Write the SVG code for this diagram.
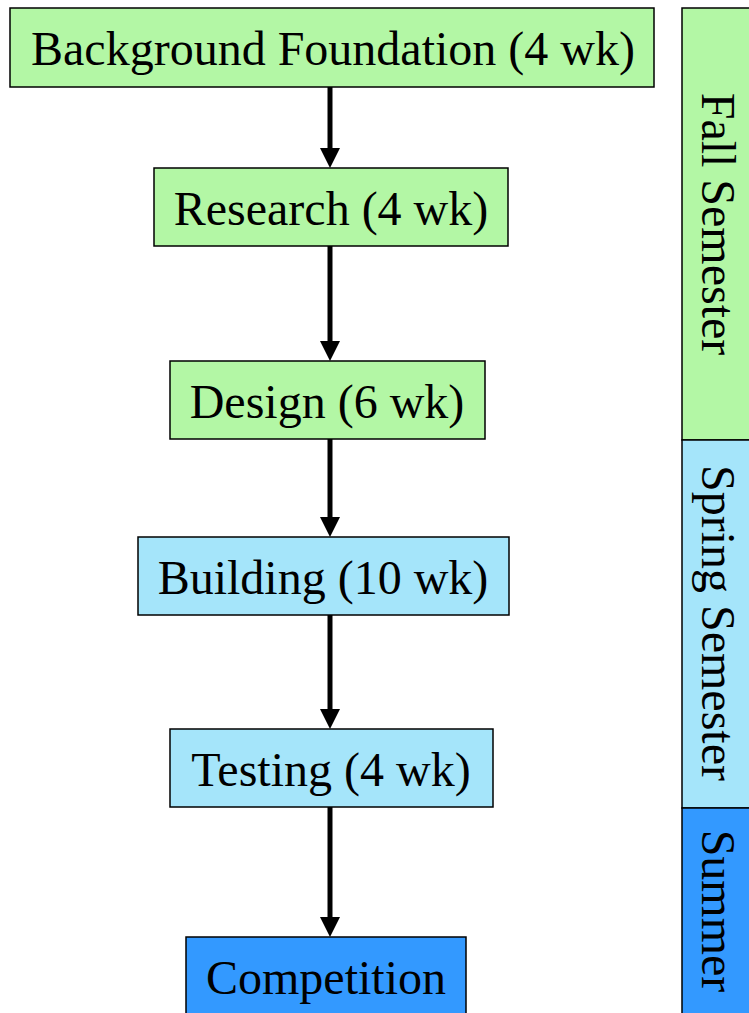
<svg xmlns="http://www.w3.org/2000/svg" width="749" height="1013" viewBox="0 0 749 1013">
<style>
.box{stroke:#000;stroke-width:1.5}
.g{fill:#b3f7a5}
.lb{fill:#a5e5fa}
.db{fill:#3399ff}
.t{font-family:"Liberation Serif","Times New Roman",serif;font-size:48px;fill:#000;text-anchor:middle}
.c{stroke:#000;stroke-width:5;fill:none}
</style>
<rect width="749" height="1013" fill="#fff"/>
<g id="connectors">
<line class="c" x1="330" y1="87" x2="330" y2="149"/>
<path d="M320,148 L340,148 L330,168 Z"/>
<line class="c" x1="330" y1="246" x2="330" y2="342"/>
<path d="M320,341 L340,341 L330,361 Z"/>
<line class="c" x1="330" y1="439" x2="330" y2="518"/>
<path d="M320,517 L340,517 L330,537 Z"/>
<line class="c" x1="330" y1="615" x2="330" y2="710"/>
<path d="M320,709 L340,709 L330,729 Z"/>
<line class="c" x1="330" y1="807" x2="330" y2="918"/>
<path d="M320,917 L340,917 L330,937 Z"/>
</g>
<g id="n1"><rect class="box g" x="10" y="8" width="644" height="79"/><text class="t" x="333" y="65">Background Foundation (4 wk)</text></g>
<g id="n2"><rect class="box g" x="154" y="168" width="354" height="78"/><text class="t" x="331" y="225">Research (4 wk)</text></g>
<g id="n3"><rect class="box g" x="170" y="361" width="315" height="78"/><text class="t" x="327" y="418">Design (6 wk)</text></g>
<g id="n4"><rect class="box lb" x="138" y="537" width="371" height="78"/><text class="t" x="323" y="594">Building (10 wk)</text></g>
<g id="n5"><rect class="box lb" x="170" y="729" width="323" height="78"/><text class="t" x="331" y="786">Testing (4 wk)</text></g>
<g id="n6"><rect class="box db" x="186" y="937" width="280" height="80"/><text class="t" x="326" y="994">Competition</text></g>
<g id="fall"><rect class="box g" x="682" y="8" width="70" height="432"/><text class="t" transform="translate(702,224) rotate(90)">Fall Semester</text></g>
<g id="spring"><rect class="box lb" x="682" y="440" width="70" height="368"/><text class="t" transform="translate(702,623) rotate(90)">Spring Semester</text></g>
<g id="summer"><rect class="box db" x="682" y="808" width="70" height="210"/><text class="t" transform="translate(702,911) rotate(90)">Summer</text></g>
</svg>
